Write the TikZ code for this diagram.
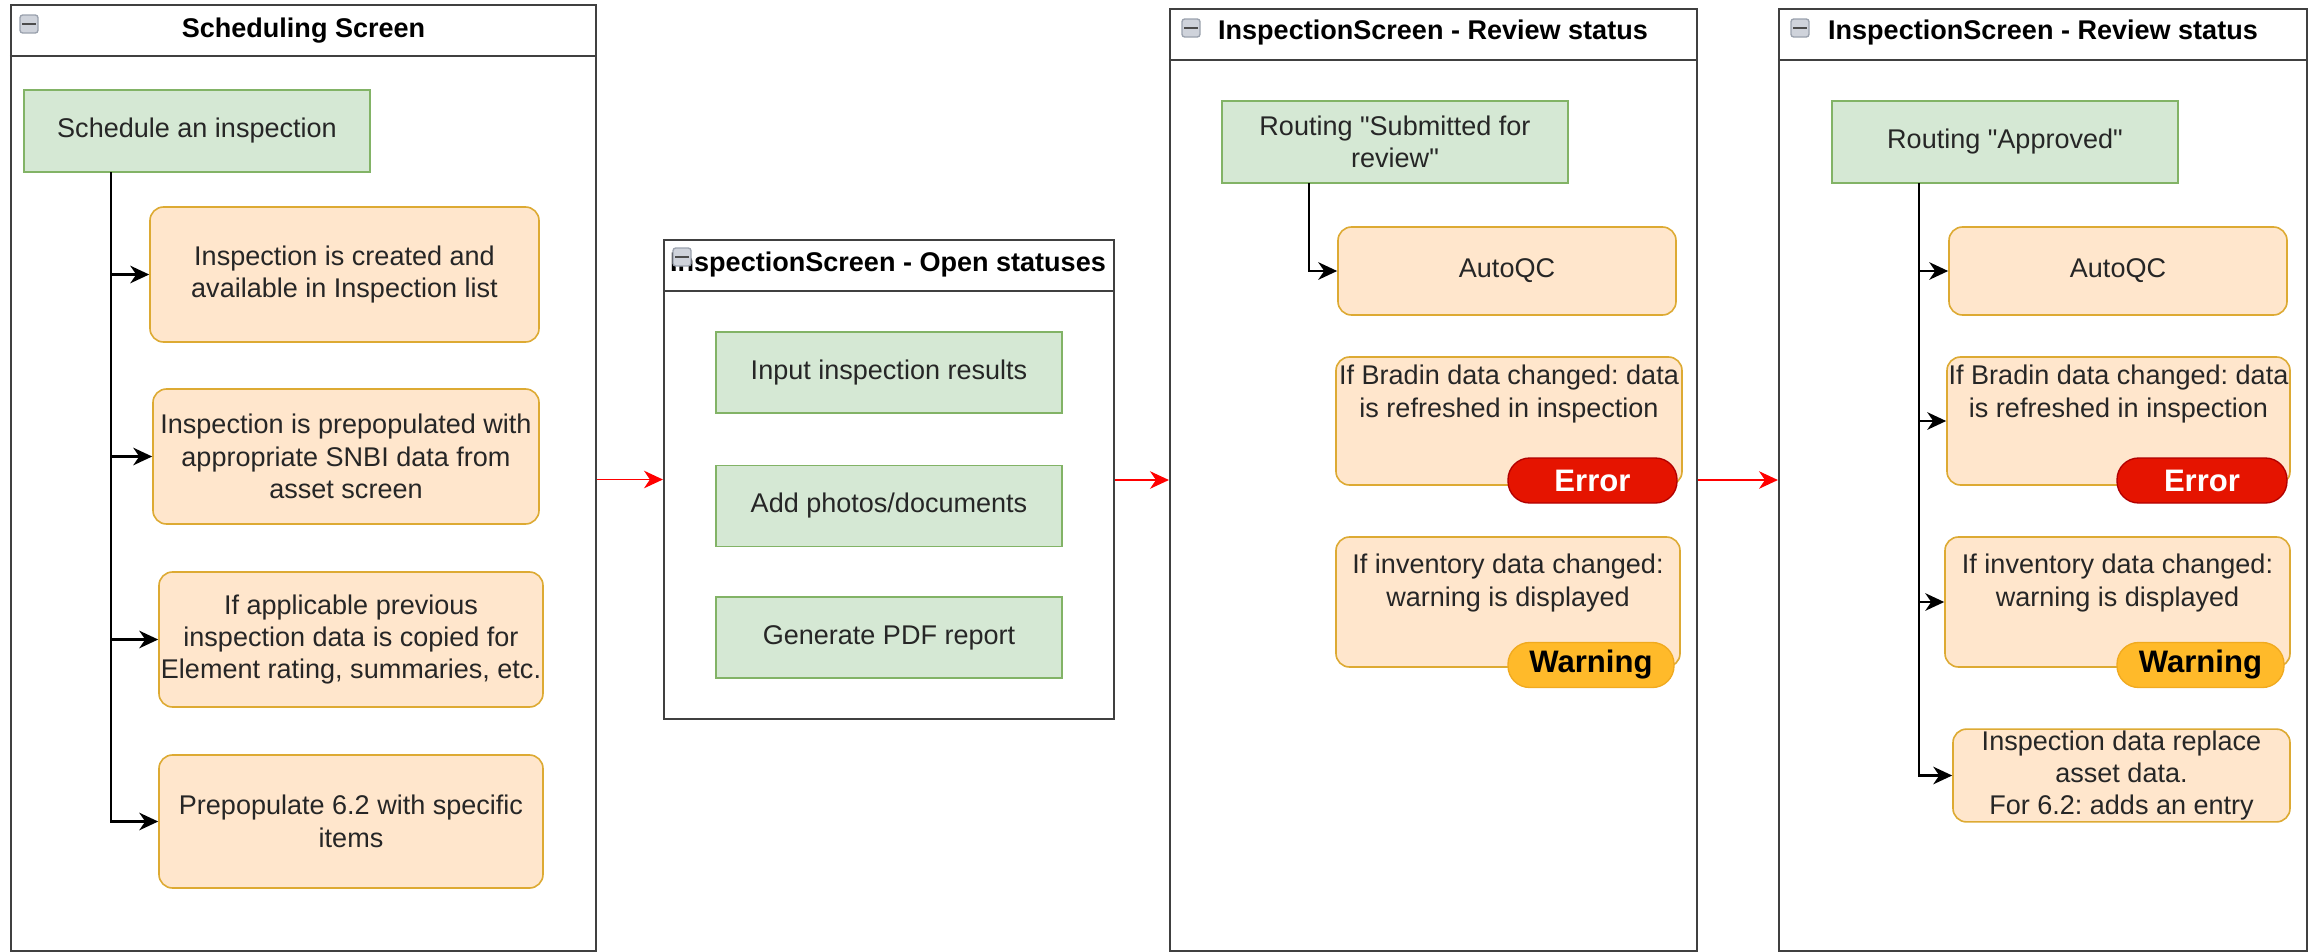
\documentclass[tikz,border=0pt]{standalone}
\usepackage{fontspec}
\setmainfont{Liberation Sans}
\usetikzlibrary{arrows.meta}
\frenchspacing

\newcommand{\pxu}{0.013cm}
\definecolor{greenfill}{HTML}{D5E8D4}
\definecolor{greenline}{HTML}{82B366}
\definecolor{peachfill}{HTML}{FFE6CC}
\definecolor{peachline}{HTML}{DDAA33}
\definecolor{errorfill}{HTML}{E51400}
\definecolor{errorline}{HTML}{B20000}
\definecolor{warnfill}{HTML}{FFBA2A}
\definecolor{warnline}{HTML}{F0AA20}
\definecolor{iconfill}{HTML}{CFD3DB}
\definecolor{iconline}{HTML}{9AA1AD}

\begin{document}
\begin{tikzpicture}[x=\pxu, y=-\pxu,
	panel/.style={draw=black!75, line width=0.8pt, inner sep=0pt},
	panelhead/.style={font=\bfseries, text=black},
	action/.style={draw=greenline, fill=greenfill, line width=0.6pt, align=center, text=black!85, inner sep=1pt},
	result/.style={draw=peachline, fill=peachfill, line width=0.6pt, rounded corners=5pt, align=center, text=black!85, inner sep=0.5pt},
	badge/.style={rounded corners=8pt, line width=0.5pt, font=\fontsize{11.5}{13}\selectfont\bfseries, inner sep=0pt, minimum height=45*\pxu},
	flow/.style={-{Stealth[length=7pt, width=6.5pt, inset=2.2pt]}, line width=0.8pt},
	handoff/.style={-{Stealth[length=7pt, width=6.5pt, inset=2.2pt]}, red, line width=0.5pt}]

		\useasboundingbox (0,0) rectangle (2313,952);

		% screens
		\node[panel, minimum width=585*\pxu, minimum height=946*\pxu] (sched) at (303.5,478) {};
		\node[panel, minimum width=450*\pxu, minimum height=479*\pxu] (openscr) at (889,479.5) {};
		\node[panel, minimum width=527*\pxu, minimum height=942*\pxu] (review) at (1433.5,480) {};
		\node[panel, minimum width=528*\pxu, minimum height=942*\pxu] (approve) at (2043,480) {};
		\foreach \p in {sched,openscr,review,approve}
			\draw[black!75, line width=0.8pt] ([yshift=-52*\pxu]\p.north west) -- ([yshift=-52*\pxu]\p.north east);

		\node[panelhead] (schedtitle) at (303.5,31) {Scheduling Screen};
		\node[panelhead] (opentitle) at (888,265) {InspectionScreen - Open statuses};
		\node[panelhead] (reviewtitle) at (1433,33) {InspectionScreen - Review status};
		\node[panelhead] (approvetitle) at (2043,33) {InspectionScreen - Review status};

		% scheduling
		\node[action, minimum width=346*\pxu, minimum height=82*\pxu] (schedule) at (197,131) {Schedule an inspection};
		\node[result, minimum width=389*\pxu, minimum height=135*\pxu] (created) at (344.5,274.5) {Inspection is created and\\available in Inspection list};
		\node[result, minimum width=386*\pxu, minimum height=135*\pxu] (prepop) at (346,456.5) {Inspection is prepopulated with\\appropriate SNBI data from\\asset screen};
		\node[result, minimum width=384*\pxu, minimum height=135*\pxu] (previous) at (351,639.5) {If applicable previous\\inspection data is copied for\\Element rating, summaries, etc.};
		\node[result, minimum width=384*\pxu, minimum height=133*\pxu] (specific) at (351,821.5) {Prepopulate 6.2 with specific\\items};

		\coordinate (schedfoot) at (111,172);
		\foreach \t in {created,prepop,previous,specific}
			\draw[flow] (schedfoot) |- (\t);

		% open statuses
		\node[action, minimum width=346*\pxu, minimum height=81*\pxu] (results) at (889,372.5) {Input inspection results};
		\node[action, minimum width=346*\pxu, minimum height=81*\pxu] (photos) at (889,506) {Add photos/documents};
		\node[action, minimum width=346*\pxu, minimum height=81*\pxu] (pdfreport) at (889,637.5) {Generate PDF report};

		% review
		\node[action, minimum width=346*\pxu, minimum height=82*\pxu] (routing1) at (1395,142) {Routing \textquotedbl Submitted for\\review\textquotedbl};
		\node[result, minimum width=338*\pxu, minimum height=88*\pxu] (autoqc1) at (1507,271) {AutoQC};
		\node[result, minimum width=346*\pxu, minimum height=128*\pxu] (bradin1) at (1509,421) {If Bradin data changed: data\\is refreshed in inspection\\[10pt]};
		\node[result, minimum width=344*\pxu, minimum height=130*\pxu] (inventory1) at (1508,602) {If inventory data changed:\\warning is displayed\\[4pt]};
		\node[badge, fill=errorfill, draw=errorline, text=white, minimum width=169*\pxu] (error1) at (1592.5,480.5) {Error};
		\node[badge, fill=warnfill, draw=warnline, text=black, minimum width=166*\pxu] (warning1) at (1591,665) {Warning};

		\coordinate (routefoot1) at (1309,183);
		\draw[flow] (routefoot1) |- (autoqc1);

		% approved
		\node[action, minimum width=346*\pxu, minimum height=82*\pxu] (routing2) at (2005,142) {Routing \textquotedbl Approved\textquotedbl};
		\node[result, minimum width=338*\pxu, minimum height=88*\pxu] (autoqc2) at (2118,271) {AutoQC};
		\node[result, minimum width=343*\pxu, minimum height=128*\pxu] (bradin2) at (2118.5,421) {If Bradin data changed: data\\is refreshed in inspection\\[10pt]};
		\node[result, minimum width=345*\pxu, minimum height=130*\pxu] (inventory2) at (2117.5,602) {If inventory data changed:\\warning is displayed\\[4pt]};
		\node[result, minimum width=337*\pxu, minimum height=87*\pxu] (replace) at (2121.5,775.5) {Inspection data replace\\asset data.\\For 6.2: adds an entry};
		\node[badge, fill=errorfill, draw=errorline, text=white, minimum width=170*\pxu] (error2) at (2202,480.5) {Error};
		\node[badge, fill=warnfill, draw=warnline, text=black, minimum width=167*\pxu] (warning2) at (2200.5,665) {Warning};

		\coordinate (routefoot2) at (1919,183);
		\foreach \t in {autoqc2,bradin2,inventory2,replace}
			\draw[flow] (routefoot2) |- (\t);

		% hand-over between screens
		\draw[handoff] (sched.east |- openscr.west) -- (openscr.west);
		\draw[handoff] (openscr.east |- review.west) -- (review.west);
		\draw[handoff] (review.east) -- (approve.west);

		% collapse buttons
		\foreach \ix/\iy in {29/24, 682/257, 1191/28, 1800/28} {
			\draw[iconline, fill=iconfill, rounded corners=1pt, line width=0.5pt] (\ix-9,\iy-9) rectangle (\ix+9,\iy+9);
			\draw[black!70, line width=1.1pt] (\ix-7,\iy) -- (\ix+7,\iy);
		}
	\end{tikzpicture}
\end{document}
